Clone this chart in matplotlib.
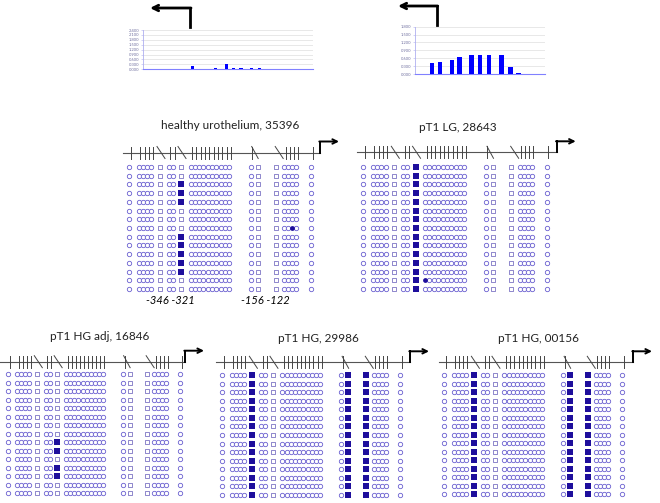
import numpy as np
import matplotlib.pyplot as plt

plt.rcParams['font.family'] = ['Lato', 'DejaVu Sans']

# small bar charts on top (methylation level per CpG)
left_bar_pos = [49.8, 56.3, 65.6, 73.0, 83.6, 91.0, 98.3, 108.6, 117.0, 124.0, 132.3, 140.6, 149.0, 158.6]
left_bar_val = [0.20, 0.03, 0.02, 0.08, 0.30, 0.06, 0.06, 0.05, 0.06, 0.03, 0.03, 0.02, 0.02, 0.02]
left_ticks = [0.0, 0.3, 0.6, 0.9, 1.2, 1.5, 1.8, 2.1, 2.4]

right_bar_pos = [17.2, 25.0, 37.2, 44.7, 56.7, 65.0, 74.0, 86.3, 95.7, 103.3]
right_bar_val = [0.41, 0.45, 0.54, 0.64, 0.73, 0.73, 0.73, 0.73, 0.28, 0.05]
right_ticks = [0.0, 0.3, 0.6, 0.9, 1.2, 1.5, 1.8]

# bisulfite clones: 15 clones x 27 CpG sites
sample_names = ['healthy urothelium, 35396', 'pT1 LG, 28643', 'pT1 HG adj, 16846',
                'pT1 HG, 29986', 'pT1 HG, 00156']
n_rows = 15
all_rows = list(range(n_rows))
col_kind = ['o'] * 5 + ['s'] + ['o'] * 2 + ['s'] + ['o'] * 11 + ['s', 's'] + ['o'] * 5
meth = [
    {8: [2, 3, 4, 8, 9, 10, 11, 12], 24: [7]},
    {8: all_rows, 9: [13]},
    {8: [8, 9, 11, 12]},
    {5: all_rows, 20: all_rows, 21: all_rows},
    {5: all_rows, 20: all_rows, 21: all_rows},
]
pos_labels = ['-346 -321', '-156 -122']

# layout (pixels)
col_off = ([0, 9.5, 13.7, 17.9, 22.1, 30.7, 39.5, 43.7, 51.7]
           + [61.2 + 4.33 * i for i in range(10)]
           + [121.4, 128.4, 146.4, 154.7, 158.8, 162.9, 167.0, 181.7])
panel_x0 = [129.3, 363.3, 8.3, 222.3, 444.3]
panel_scale = [1.0, 1.01, 0.945, 0.98, 0.98]
row_top = [167, 167, 374, 375, 375]
row_bot = [289, 289, 493, 495, 494]
map_y = [152.5, 152.3, 361.7, 362.3, 362.3]
line_start = [123, 357, 0, 216, 439]
line_end = [320, 556.7, 185, 410, 633]
title_xy = [(230, 125), (458, 127), (100, 337), (318, 338), (538, 338)]
diag = {5: (-3, 5), 8: (-3, 5), 20: (-6, 0.5), 21: (-0.5, 7.5)}

open_c = '#6a5fd0'
open_s = '#7c74c4'
fill_c = '#1e0e9c'

fig = plt.figure(figsize=(6.6, 5.03), dpi=100)
ax = fig.add_axes([0, 0, 1, 1])
ax.set_xlim(0, 660)
ax.set_ylim(503, 0)
ax.axis('off')

for p in range(5):
    xs = panel_x0[p] + panel_scale[p] * np.array(col_off)
    ys = np.linspace(row_top[p], row_bot[p], n_rows)
    pts = {('o', 0): [], ('o', 1): [], ('s', 0): [], ('s', 1): []}
    for c, kind in enumerate(col_kind):
        for r in range(n_rows):
            m = 1 if r in meth[p].get(c, []) else 0
            pts[(kind, m)].append((xs[c], ys[r]))
    for (kind, m), v in pts.items():
        if not v:
            continue
        v = np.array(v)
        if kind == 'o':
            if m:
                ax.scatter(v[:, 0], v[:, 1], s=12, marker='o', color=fill_c, lw=0)
            else:
                ax.scatter(v[:, 0], v[:, 1], s=10, marker='o', facecolors='white',
                           edgecolors=open_c, linewidths=0.6)
        else:
            if m:
                ax.scatter(v[:, 0], v[:, 1], s=15, marker='s', color=fill_c, lw=0)
            else:
                ax.scatter(v[:, 0], v[:, 1], s=10, marker='s', facecolors='white',
                           edgecolors=open_s, linewidths=0.6)

    # CpG map line
    y0 = map_y[p]
    ax.plot([line_start[p], line_end[p]], [y0, y0], color='#555555', lw=0.8)
    for c, kind in enumerate(col_kind):
        if kind == 'o':
            ax.plot([xs[c] + 1.5] * 2, [y0 - 6, y0 + 6], color='#444444', lw=0.7)
        else:
            a, b = diag[c]
            ax.plot([xs[c] + a, xs[c] + b], [y0 - 6, y0 + 6], color='#444444', lw=0.7)
    # transcription start arrow
    xe = line_end[p]
    ax.plot([xe, xe], [y0, y0 - 11], color='black', lw=1.4)
    ax.annotate('', xy=(min(xe + 19, 659), y0 - 11), xytext=(xe - 0.7, y0 - 11),
                arrowprops=dict(arrowstyle='->', color='black', lw=1.4,
                                shrinkA=0, shrinkB=0, mutation_scale=8))
    ax.text(title_xy[p][0], title_xy[p][1], sample_names[p], ha='center', va='center',
            fontsize=8.5, color='#222222')

ax.text(170, 300, pos_labels[0], style='italic', ha='center', va='center', fontsize=8)
ax.text(265, 300, pos_labels[1], style='italic', ha='center', va='center', fontsize=8)

# arrows above bar charts
for xv, ytop, ybot, xt in [(190, 8, 27, 150), (436.7, 6, 25, 398)]:
    ax.plot([xv, xv], [ybot, ytop], color='black', lw=2)
    ax.annotate('', xy=(xt, ytop), xytext=(xv + 1, ytop),
                arrowprops=dict(arrowstyle='->', color='black', lw=2,
                                shrinkA=0, shrinkB=0, mutation_scale=10))


def bar_chart(rect, pos, val, ticks, xmax, width):
    a = fig.add_axes(rect)
    a.bar(pos, val, width=width, color='#0000ff', zorder=3)
    a.set_xlim(0, xmax)
    a.set_ylim(0, ticks[-1])
    a.set_yticks(ticks)
    a.set_yticklabels([f'{t:.3f}' for t in ticks], fontsize=3, color='#7070a0')
    a.set_xticks([])
    a.yaxis.grid(True, color='#e4e4e4', lw=0.6)
    a.set_axisbelow(True)
    for s in ['top', 'right']:
        a.spines[s].set_visible(False)
    a.spines['left'].set_color('#b0b0f0')
    a.spines['left'].set_linewidth(0.6)
    a.spines['bottom'].set_color('#8080ff')
    a.spines['bottom'].set_linewidth(0.8)
    a.tick_params(axis='y', length=1.5, width=0.4, pad=1, color='#b0b0f0')
    a.patch.set_alpha(0)
    return a


bar_chart([142.7 / 660, 1 - 69.3 / 503, 170.3 / 660, 39.3 / 503],
          left_bar_pos, left_bar_val, left_ticks, 170.3, 3.4)
bar_chart([415 / 660, 1 - 74 / 503, 130 / 660, 47.3 / 503],
          right_bar_pos, right_bar_val, right_ticks, 130, 4.5)

fig.savefig('out.png', dpi=100)
